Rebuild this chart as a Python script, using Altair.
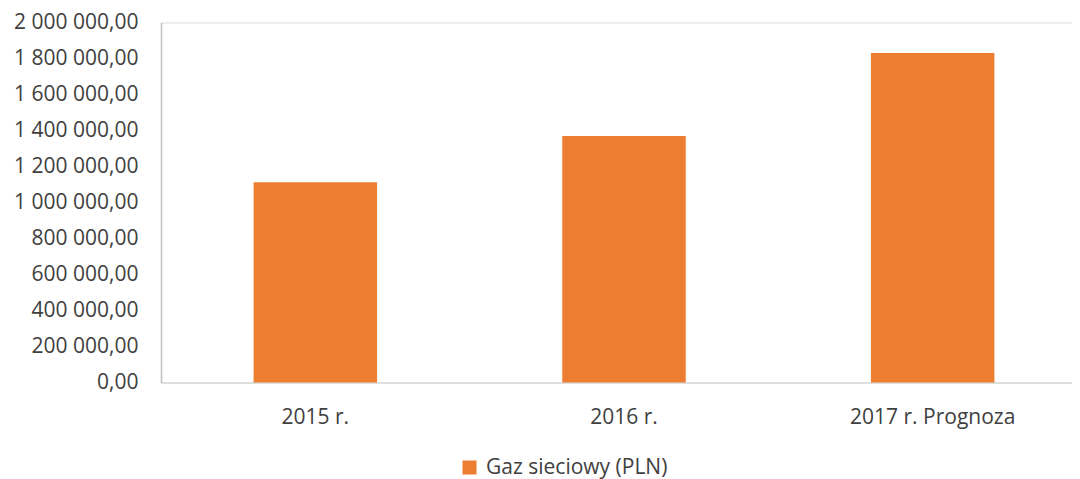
import altair as alt
import pandas as pd

categories = ["2015 r.", "2016 r.", "2017 r. Prognoza"]
values = [1112000, 1370000, 1831000]
series_name = "Gaz sieciowy (PLN)"
y_ticks = [0, 200000, 400000, 600000, 800000, 1000000, 1200000, 1400000, 1600000, 1800000, 2000000]

df = pd.DataFrame({"kategoria": categories, "wartosc": values, "seria": [series_name] * len(categories)})

FONT = "Open Sans"
TXT = "#404040"
FS = 21

label_expr = (
    "replace(replace(replace(format(datum.value, ',.2f'), '.', '#'), regexp(',', 'g'), ' '), '#', ',')"
)

chart = (
    alt.Chart(df)
    .mark_bar(color="#ED7D31")
    .encode(
        x=alt.X(
            "kategoria:N",
            sort=categories,
            scale=alt.Scale(paddingInner=0.6, paddingOuter=0.3, range=[0, 926]),
            axis=alt.Axis(
                title=None,
                labelAngle=0,
                ticks=False,
                grid=False,
                domainColor="#D9D9D9",
                domainWidth=1.5,
                labelFont=FONT,
                labelFontSize=FS,
                labelColor=TXT,
                labelPadding=24,
                labelLimit=400,
            ),
        ),
        y=alt.Y(
            "wartosc:Q",
            scale=alt.Scale(domain=[0, 2000000], nice=False),
            axis=alt.Axis(
                title=None,
                values=y_ticks,
                grid=False,
                ticks=False,
                domainColor="#BFBFBF",
                domainWidth=1.5,
                labelFont=FONT,
                labelFontSize=FS,
                labelColor=TXT,
                labelPadding=23,
                labelExpr=label_expr,
                labelLimit=400,
            ),
        ),
        color=alt.Color(
            "seria:N",
            scale=alt.Scale(range=["#ED7D31"]),
            legend=alt.Legend(
                title=None,
                orient="none",
                legendX=298,
                legendY=434.5,
                symbolType="square",
                symbolSize=196,
                symbolStrokeWidth=0,
                labelFont=FONT,
                labelFontSize=FS,
                labelColor=TXT,
                labelOffset=6,
                labelLimit=400,
            ),
        ),
    )
    .properties(
        width=911,
        height=360,
        autosize=alt.AutoSizeParams(type="none"),
        padding={"left": 153, "top": 14.5, "right": 0, "bottom": 97},
    )
    .configure_view(strokeWidth=0, stroke="transparent")
    .configure(background="white")
)

chart.save("out.html", embed_options={"renderer": "svg", "actions": False})
